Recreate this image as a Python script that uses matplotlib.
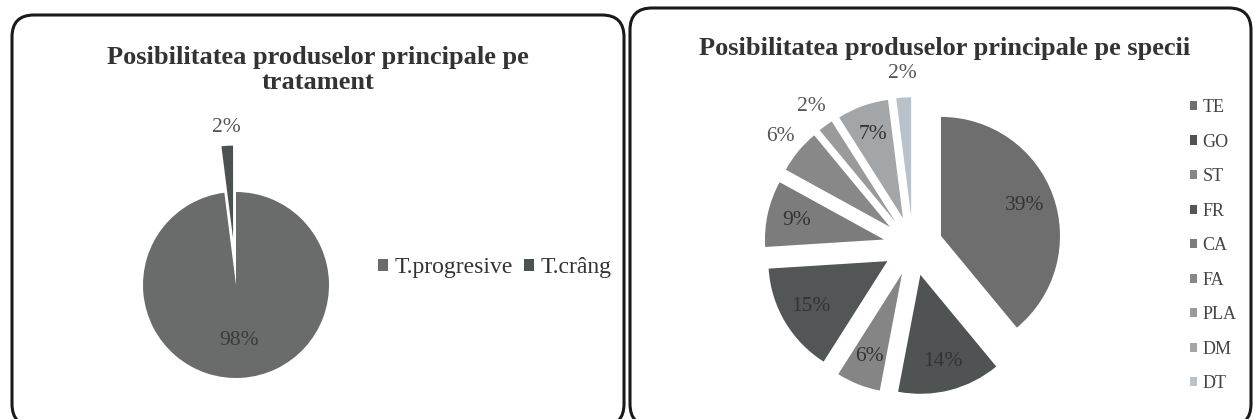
import matplotlib
matplotlib.use('Agg')
import matplotlib.pyplot as plt
from matplotlib.patches import FancyBboxPatch
import numpy as np

# date
titlu_tratament = 'Posibilitatea produselor principale pe\ntratament'
tratamente = ['T.progresive', 'T.crâng']
procente_tratament = [98, 2]
culori_tratament = ['#6a6c6c', '#4c5252']

titlu_specii = 'Posibilitatea produselor principale pe specii'
specii = ['TE', 'GO', 'ST', 'FR', 'CA', 'FA', 'PLA', 'DM', 'DT']
procente_specii = [39, 14, 6, 15, 9, 6, 2, 7, 2]
culori_specii = ['#6e6e6e', '#4f5353', '#858585', '#525656', '#7c7c7c',
                 '#888888', '#9a9a9a', '#a3a6a8', '#b9c2ca']
specii_eticheta_afara = ['FA', 'PLA', 'DT']

W, H = 1255, 419
plt.rcParams['font.family'] = ['Liberation Serif', 'DejaVu Sans']


def axe_pie(fig, cx, cy, r, jum=1.8):
    # axe in pixeli: raza 1 in date = r pixeli, centrul in (cx, cy) de sus
    lat = 2 * jum * r
    ax = fig.add_axes([(cx - jum * r) / W, (H - cy - jum * r) / H, lat / W, lat / H])
    return ax


def muta_eticheta(text, wedge, dist):
    th = np.deg2rad((wedge.theta1 + wedge.theta2) / 2)
    x0, y0 = wedge.center
    text.set_position((x0 + dist * wedge.r * np.cos(th), y0 + dist * wedge.r * np.sin(th)))


def main():
    fig = plt.figure(figsize=(W / 100, H / 100), dpi=100)
    fond = fig.add_axes([0, 0, 1, 1])
    fond.set_xlim(0, W)
    fond.set_ylim(0, H)
    fond.axis('off')

    # ramele rotunjite (coordonate de sus in jos, convertite)
    for x0, y0, x1, y1 in [(12, 15, 624, 426), (630, 8, 1251, 426)]:
        fond.add_patch(FancyBboxPatch((x0, H - y1), x1 - x0, y1 - y0,
                                      boxstyle='round,pad=0,rounding_size=22',
                                      fc='none', ec='#1a1a1a', lw=2.2))

    fond.text(318, H - 70, titlu_tratament, ha='center', va='center', fontsize=19,
              fontweight='bold', color='#333333', linespacing=1.1)
    fond.text(945, H - 48, titlu_specii, ha='center', va='center', fontsize=19,
              fontweight='bold', color='#333333')

    # pie stanga
    ax1 = axe_pie(fig, 236, 285, 93)
    w1, t1, a1 = ax1.pie(procente_tratament, colors=culori_tratament, startangle=90,
                         counterclock=False, explode=[0, 0.5], autopct='%1.0f%%',
                         pctdistance=0.6, textprops={'fontsize': 15.5, 'color': '#3a3a3a'})
    muta_eticheta(a1[1], w1[1], 1.2)
    a1[1].set_color('#555555')
    ax1.set_xlim(-1.8, 1.8)
    ax1.set_ylim(-1.8, 1.8)
    ax1.legend(w1, tratamente, ncol=2, loc='center left', frameon=False,
               bbox_to_anchor=(378, H - 268), bbox_transform=fond.transData,
               borderpad=0, borderaxespad=0,
               fontsize=17, handlelength=0.42, handleheight=0.42,
               handletextpad=0.3, columnspacing=0.45, labelcolor='#333333')

    # pie dreapta
    ax2 = axe_pie(fig, 913, 246, 119)
    w2, t2, a2 = ax2.pie(procente_specii, colors=culori_specii, startangle=90,
                         counterclock=False, explode=[0.25] * len(specii),
                         autopct='%1.0f%%', pctdistance=0.75,
                         textprops={'fontsize': 15.5, 'color': '#333333'})
    for nume, w, a in zip(specii, w2, a2):
        if nume in specii_eticheta_afara:
            muta_eticheta(a, w, 1.2)
            a.set_color('#555555')
    ax2.set_xlim(-1.8, 1.8)
    ax2.set_ylim(-1.8, 1.8)
    ax2.legend(w2, specii, loc='upper left', frameon=False,
               bbox_to_anchor=(1190, H - 99), bbox_transform=fond.transData,
               borderpad=0, borderaxespad=0,
               fontsize=13, handlelength=0.4, handleheight=0.4,
               handletextpad=0.3, labelspacing=0.97, labelcolor='#444444')

    fig.savefig('out.png', dpi=100, facecolor='white')


if __name__ == "__main__":
    main()
